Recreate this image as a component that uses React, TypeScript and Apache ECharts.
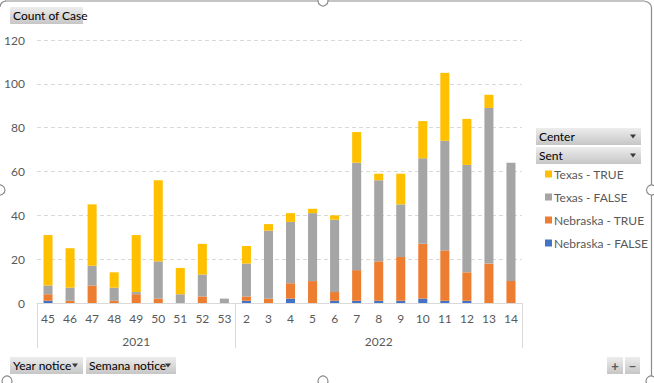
import React, { useEffect, useRef } from 'react';
import * as echarts from 'echarts';

const weeks2021 = ['45', '46', '47', '48', '49', '50', '51', '52', '53'];
const weeks2022 = ['2', '3', '4', '5', '6', '7', '8', '9', '10', '11', '12', '13', '14'];
const years = ['2021', '2022'];
const categories = [...weeks2021, ...weeks2022];

const nebraskaFalse = [1, 0, 0, 0, 0, 0, 0, 0, 0, 1, 0, 2, 0, 1, 1, 1, 1, 2, 1, 1, 0, 0];
const nebraskaTrue = [3, 1, 8, 1, 4, 2, 0, 3, 0, 2, 2, 7, 10, 4, 14, 18, 20, 25, 23, 13, 18, 10];
const texasFalse = [4, 6, 9, 6, 1, 17, 4, 10, 2, 15, 31, 28, 31, 33, 49, 37, 24, 39, 50, 49, 71, 54];
const texasTrue = [23, 18, 28, 7, 26, 37, 12, 14, 0, 8, 3, 4, 2, 2, 14, 3, 14, 17, 31, 21, 6, 0];

const yTicks = [0, 20, 40, 60, 80, 100, 120];

const FONT = 'Lato';
const TXT = '#595959';

function button(x: number, y: number, w: number, h: number, label: string, arrow: boolean, fontSize = 12) {
  const children: any[] = [
    {
      type: 'rect',
      shape: { x: 0, y: 0, width: w, height: h },
      style: {
        fill: new echarts.graphic.LinearGradient(0, 0, 0, 1, [
          { offset: 0, color: '#ededed' },
          { offset: 1, color: '#c6c6c6' },
        ]),
      },
    },
    {
      type: 'text',
      x: 3,
      y: h / 2,
      style: { text: label, fill: '#000', font: `${fontSize}px ${FONT}`, textVerticalAlign: 'middle' },
    },
  ];
  if (arrow) {
    children.push({
      type: 'polygon',
      shape: { points: [[w - 11, h / 2 - 2], [w - 5, h / 2 - 2], [w - 8, h / 2 + 2]] },
      style: { fill: '#3a3a3a' },
    });
  }
  return { type: 'group', x, y, children };
}

function handle(cx: number, cy: number) {
  return {
    type: 'circle',
    shape: { cx, cy, r: 5 },
    style: { fill: '#fff', stroke: '#8c8c8c', lineWidth: 1.2 },
    z: 100,
  };
}

export default function App() {
  const ref = useRef<HTMLDivElement>(null);
  useEffect(() => {
    if (!ref.current) return;
    const chart = echarts.init(ref.current, null, { renderer: 'svg' });
    const n = categories.length;
    const boundaries = [0, weeks2021.length, n];
    const mids = [weeks2021.length / 2, weeks2021.length + weeks2022.length / 2];
    const colors = { nf: '#4472C4', nt: '#ED7D31', tf: '#A5A5A5', tt: '#FFC000' };
    const mk = (name: string, data: number[], color: string) => ({
      name,
      type: 'bar',
      stack: 'total',
      data: data.map((v) => (v === 0 ? null : v)),
      barWidth: '41%',
      itemStyle: { color },
      xAxisIndex: 0,
    });
    chart.setOption({
      animation: false,
      textStyle: { fontFamily: FONT },
      grid: { left: 37, right: 132, top: 40, bottom: 80, containLabel: false },
      xAxis: [
        {
          type: 'category',
          data: categories,
          position: 'bottom',
          offset: 0,
          axisLine: { show: true, lineStyle: { color: '#d9d9d9', width: 1 } },
          axisTick: { show: false },
          axisLabel: { color: TXT, fontSize: 12, margin: 9, fontFamily: FONT, interval: 0 },
        },
        {
          type: 'value',
          min: 0,
          max: n,
          position: 'bottom',
          offset: 0,
          axisLine: { show: false },
          splitLine: { show: false },
          axisTick: {
            show: true,
            length: 45,
            customValues: boundaries,
            lineStyle: { color: '#d9d9d9', width: 1 },
          },
          axisLabel: {
            show: true,
            customValues: mids,
            formatter: (v: number) => years[mids.indexOf(v)] ?? '',
            color: TXT,
            fontSize: 12,
            margin: 32,
            fontFamily: FONT,
          },
        },
      ],
      yAxis: {
        type: 'value',
        min: yTicks[0],
        max: yTicks[yTicks.length - 1],
        interval: yTicks[1] - yTicks[0],
        axisLine: { show: false },
        axisTick: { show: false },
        axisLabel: { color: TXT, fontSize: 12, margin: 12, fontFamily: FONT },
        splitLine: { show: true, lineStyle: { color: '#d9d9d9', type: [4, 3], width: 1 } },
      },
      legend: {
        orient: 'vertical',
        left: 540,
        top: 162,
        itemWidth: 7,
        itemHeight: 7,
        itemGap: 9,
        icon: 'rect',
        textStyle: { color: TXT, fontSize: 12, fontFamily: FONT, lineHeight: 14, padding: [0, 0, 0, -3] },
        data: ['Texas - TRUE', 'Texas - FALSE', 'Nebraska - TRUE', 'Nebraska - FALSE'],
      },
      series: [
        mk('Nebraska - FALSE', nebraskaFalse, colors.nf),
        mk('Nebraska - TRUE', nebraskaTrue, colors.nt),
        mk('Texas - FALSE', texasFalse, colors.tf),
        mk('Texas - TRUE', texasTrue, colors.tt),
      ],
      graphic: [
        { type: 'line', shape: { x1: 5, y1: 1, x2: 645, y2: 1 }, style: { stroke: '#8c8c8c', lineWidth: 1.2 } },
        { type: 'line', shape: { x1: 651.5, y1: 8, x2: 651.5, y2: 383 }, style: { stroke: '#8c8c8c', lineWidth: 1.2 } },
        { type: 'arc', shape: { cx: 645, cy: 8, r: 6.5, startAngle: -Math.PI / 2, endAngle: 0 }, style: { stroke: '#8c8c8c', lineWidth: 1.2, fill: 'none' } },
        { type: 'arc', shape: { cx: 6, cy: 7, r: 6, startAngle: Math.PI, endAngle: Math.PI * 1.5 }, style: { stroke: '#8c8c8c', lineWidth: 1.2, fill: 'none' } },
        handle(323, 1),
        handle(651.5, 190),
        handle(0, 190),
        handle(7, 381),
        handle(323, 381),
        handle(651, 381),
        button(10, 7, 73, 17, 'Count of Case', false),
        button(536, 128, 105, 17, 'Center', true),
        button(536, 147, 105, 17, 'Sent', true),
        button(10, 357, 73, 17, 'Year notice', true),
        button(86, 357, 90, 17, 'Semana notice', true),
        {
          type: 'group',
          x: 607,
          y: 357,
          children: [
            {
              type: 'rect',
              shape: { x: 0, y: 0, width: 16, height: 17 },
              style: { fill: new echarts.graphic.LinearGradient(0, 0, 0, 1, [{ offset: 0, color: '#ededed' }, { offset: 1, color: '#c6c6c6' }]) },
            },
            { type: 'text', x: 8, y: 8.5, style: { text: '+', fill: '#595959', font: `bold 13px ${FONT}`, align: 'center', verticalAlign: 'middle' } },
            {
              type: 'rect',
              shape: { x: 18, y: 0, width: 15, height: 17 },
              style: { fill: new echarts.graphic.LinearGradient(0, 0, 0, 1, [{ offset: 0, color: '#ededed' }, { offset: 1, color: '#c6c6c6' }]) },
            },
            { type: 'text', x: 25.5, y: 8.5, style: { text: '−', fill: '#595959', font: `bold 13px ${FONT}`, align: 'center', verticalAlign: 'middle' } },
          ],
        },
      ],
    });
    return () => chart.dispose();
  }, []);
  return (
    <div
      ref={ref}
      style={{ position: 'fixed', left: 0, top: 0, width: 654, height: 383, background: '#fff' }}
    />
  );
}
